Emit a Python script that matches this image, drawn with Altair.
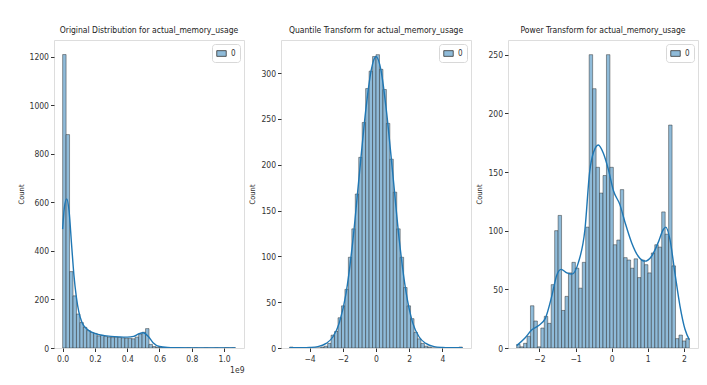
import altair as alt
import pandas as pd

FONT = "DejaVu Sans Condensed, Liberation Sans Narrow, Liberation Sans, sans-serif"
BAR_FILL = "#8fbbd9"
LINE = "#1f77b4"

# ---- Panel 1: original distribution (x in units of 1e9) ----
orig_start = 0.0
orig_width = 0.0214
orig_counts = [1210, 880, 315, 215, 140, 105, 85, 72, 64, 60,
               50, 52, 48, 45, 43, 45, 44, 42, 40, 40,
               38, 45, 58, 65, 80, 15, 6, 3, 2, 1,
               1, 1, 0, 1, 0, 0, 1, 0, 1, 0,
               0, 1, 0, 0, 1, 0, 0, 1, 0, 1]
orig_kde_x = [0.0, 0.01, 0.025, 0.04, 0.055, 0.07, 0.085, 0.1, 0.12, 0.15, 0.2, 0.25, 0.3,
              0.35, 0.4, 0.44, 0.47, 0.5, 0.53, 0.56, 0.6, 0.65, 0.7, 0.8, 0.9, 1.0, 1.07]
orig_kde_y = [490, 575, 615, 565, 430, 300, 210, 150, 105, 78, 60, 52, 48,
              46, 45, 48, 58, 63, 48, 22, 6, 2, 1, 0.5, 0.3, 0.2, 0.1]

# ---- Panel 2: quantile transform ----
q_start = -5.199
q_width = 0.208
q_counts = [1, 0, 0, 0, 0, 0, 0, 0, 0, 1,
            2, 5, 14, 18, 33, 46, 64, 99, 130, 168,
            208, 246, 283, 302, 318, 320, 304, 282, 245, 206,
            170, 130, 99, 66, 46, 32, 17, 10, 5, 2,
            1, 0, 0, 0, 0, 0, 0, 0, 0, 1]
q_kde_x = [-5.2, -4.5, -4.0, -3.5, -3.0, -2.6, -2.2, -1.8, -1.4, -1.0, -0.6, -0.3, 0.0,
           0.3, 0.6, 1.0, 1.4, 1.8, 2.2, 2.6, 3.0, 3.5, 4.0, 4.5, 5.2]
q_kde_y = [0.2, 0.3, 0.6, 1.5, 5, 12, 28, 60, 116, 190, 262, 302, 318,
           303, 263, 192, 118, 62, 28, 12, 5, 1.5, 0.6, 0.3, 0.2]

# ---- Panel 3: power transform ----
p_start = -2.63
p_width = 0.0956
p_counts = [3, 1, 4, 10, 36, 23, 1, 17, 27, 21,
            54, 100, 113, 32, 44, 64, 73, 68, 51, 73,
            103, 250, 221, 154, 132, 147, 250, 154, 88, 92,
            135, 77, 75, 68, 76, 60, 75, 71, 64, 81,
            88, 86, 116, 97, 190, 70, 8, 11, 6, 8]
p_kde_x = [-2.63, -2.4, -2.21, -2.03, -1.84, -1.66, -1.52, -1.4, -1.24, -1.1, -0.92, -0.74,
           -0.61, -0.5, -0.37, -0.23, -0.09, 0.05, 0.23, 0.37, 0.55, 0.74, 0.92, 1.1, 1.29,
           1.43, 1.5, 1.61, 1.75, 1.89, 2.03, 2.15]
p_kde_y = [2, 8.5, 15.5, 19, 25, 44, 62, 67, 64, 63, 73, 101,
           150, 167, 173, 166, 152, 134, 122, 107, 90, 78, 74, 78, 90,
           101, 103, 93, 64, 36, 16, 7]


def panel(title, counts, start, width, kde_x, kde_y, xdom, xticks, xfmt, ydom, yticks, xtitle=None):
    bars = pd.DataFrame({"x0": [start + i * width for i in range(len(counts))], "count": counts})
    bars["x1"] = bars["x0"] + width
    bars["series"] = "0"
    kde = pd.DataFrame({"x": kde_x, "y": kde_y})

    xaxis_kw = dict(values=xticks, format=xfmt, grid=False, domain=False, tickSize=3.5,
                    tickColor="#333", labelColor="#333", labelFontSize=8.5, labelFont=FONT,
                    labelPadding=3, labelOverlap=False, labelFlush=False)
    if xtitle:
        xaxis_kw.update(title=xtitle, titleAnchor="end", titleFontSize=8.5, titleFont=FONT,
                        titleFontWeight="normal", titleColor="#333", titlePadding=2)
    else:
        xaxis_kw.update(title=None)
    xaxis = alt.Axis(**xaxis_kw)
    xs = alt.Scale(domain=xdom, nice=False, zero=False)
    ys = alt.Scale(domain=ydom, nice=False)
    yaxis = alt.Axis(values=yticks, format="d", grid=False, domain=False, tickSize=3.5,
                     tickColor="#333", labelColor="#333", labelFontSize=8.5, labelFont=FONT,
                     labelPadding=2, labelOverlap=False, title="Count", titleFontSize=7.5,
                     titleFont=FONT, titleFontWeight="normal", titleColor="#333", titlePadding=4)

    hist = alt.Chart(bars).mark_rect(stroke="#222", strokeWidth=0.6, strokeOpacity=0.75, clip=True).encode(
        x=alt.X("x0:Q", scale=xs, axis=xaxis),
        x2="x1:Q",
        y=alt.Y("count:Q", scale=ys, axis=yaxis),
        y2=alt.datum(0),
        color=alt.Color("series:N", scale=alt.Scale(domain=["0"], range=[BAR_FILL]),
                        legend=alt.Legend(orient="top-right", title=None, offset=4,
                                          symbolType="M-1,-0.6H1V0.6H-1Z", symbolSize=90,
                                          symbolStrokeColor="#333", symbolStrokeWidth=0.8,
                                          symbolFillColor=BAR_FILL, labelFontSize=8, labelFont=FONT,
                                          labelColor="#333", fillColor="white",
                                          strokeColor="#d8d8d8", cornerRadius=3, padding=4)),
    )
    line = alt.Chart(kde).mark_line(color=LINE, strokeWidth=1.4, interpolate="monotone", clip=True).encode(
        x=alt.X("x:Q", scale=xs, axis=xaxis),
        y=alt.Y("y:Q", scale=ys, axis=yaxis),
    )
    return alt.layer(hist, line).properties(
        width=190, height=308,
        title=alt.TitleParams(title, fontSize=8.5, font=FONT, fontWeight="normal", color="#222", offset=6),
    )


p1 = panel("Original Distribution for actual_memory_usage", orig_counts, orig_start, orig_width,
           orig_kde_x, orig_kde_y, [-0.0535, 1.1235], [0.0, 0.2, 0.4, 0.6, 0.8, 1.0], ".1f",
           [0, 1270], [0, 200, 400, 600, 800, 1000, 1200], xtitle="1e9")
p2 = panel("Quantile Transform for actual_memory_usage", q_counts, q_start, q_width,
           q_kde_x, q_kde_y, [-5.72, 5.72], [-4, -2, 0, 2, 4], "d",
           [0, 336], [0, 50, 100, 150, 200, 250, 300])
p3 = panel("Power Transform for actual_memory_usage", p_counts, p_start, p_width,
           p_kde_x, p_kde_y, [-2.87, 2.39], [-2, -1, 0, 1, 2], "d",
           [0, 262.5], [0, 50, 100, 150, 200, 250])

chart = alt.hconcat(p1, p2, p3, spacing=37, bounds="flush").resolve_scale(
    color="independent").resolve_legend(color="independent").properties(
    padding={"left": 8, "top": 17, "right": 0, "bottom": 0}
).configure_view(stroke="#555", strokeWidth=1).configure(background="white")

chart.save("out.html", embed_options={"renderer": "svg", "actions": False})
